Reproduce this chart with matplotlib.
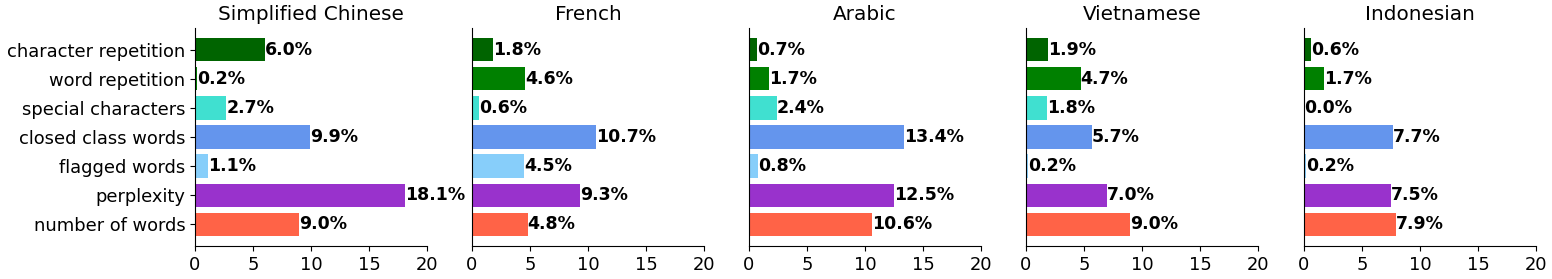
import matplotlib
matplotlib.use("Agg")
import matplotlib.pyplot as plt

categories = ["character repetition", "word repetition", "special characters",
              "closed class words", "flagged words", "perplexity", "number of words"]
colors = ["darkgreen", "green", "turquoise", "cornflowerblue",
          "lightskyblue", "darkorchid", "tomato"]
languages = ["Simplified Chinese", "French", "Arabic", "Vietnamese", "Indonesian"]
chinese = [6.0, 0.2, 2.7, 9.9, 1.1, 18.1, 9.0]
french = [1.8, 4.6, 0.6, 10.7, 4.5, 9.3, 4.8]
arabic = [0.7, 1.7, 2.4, 13.4, 0.8, 12.5, 10.6]
vietnamese = [1.9, 4.7, 1.8, 5.7, 0.2, 7.0, 9.0]
indonesian = [0.6, 1.7, 0.0, 7.7, 0.2, 7.5, 7.9]
series = [chinese, french, arabic, vietnamese, indonesian]
xticks = [0, 5, 10, 15, 20]

W, H = 1552, 279
fig = plt.figure(figsize=(W / 100, H / 100), dpi=100)
lefts = [195, 472, 749, 1026, 1304]
aw = 232
bottom = 33 / H
height = 218 / H

for i, (lang, vals) in enumerate(zip(languages, series)):
    ax = fig.add_axes([lefts[i] / W, bottom, aw / W, height])
    y = list(range(len(categories)))
    ax.barh(y, vals, color=colors, height=0.8)
    ax.invert_yaxis()
    ax.set_xlim(0, 20)
    ax.set_xticks(xticks)
    ax.tick_params(axis="x", labelsize=12.9)
    for yy, v in zip(y, vals):
        ax.text(v, yy, f"{v:.1f}%", ha="left", va="center",
                fontsize=12.5, fontweight="bold")
    ax.set_title(lang, fontsize=14.4)
    ax.spines["top"].set_visible(False)
    ax.spines["right"].set_visible(False)
    if i == 0:
        ax.set_yticks(y)
        ax.set_yticklabels(categories, fontsize=12.9)
    else:
        ax.set_yticks([])

fig.savefig("out.png", dpi=100)
